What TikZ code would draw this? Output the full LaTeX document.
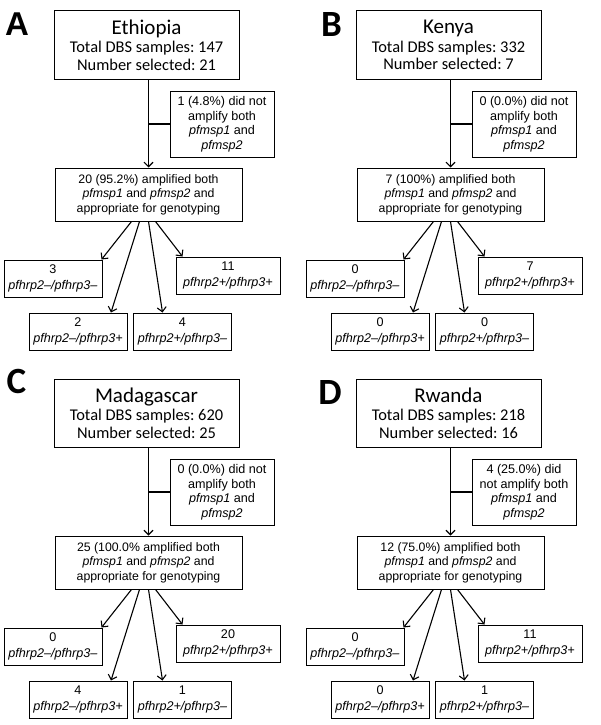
\documentclass[tikz,border=0pt]{standalone}
\usepackage{fontspec}
\setmainfont{Liberation Sans}
\newfontfamily\calibri{Carlito}
\usetikzlibrary{arrows.meta,positioning}
\frenchspacing
\newcommand{\hrpmm}{\textit{pfhrp2–/pfhrp3–}}
\newcommand{\hrppp}{\textit{pfhrp2+/pfhrp3+}}
\newcommand{\hrpmp}{\textit{pfhrp2–/pfhrp3+}}
\newcommand{\hrppm}{\textit{pfhrp2+/pfhrp3–}}
\tikzset{%
    panel/.style={%
        inner sep=0pt, font=\calibri\bfseries\fontsize{37}{37}\selectfont
    },
    country/.style={%
        draw, line width=1pt, minimum width=185, minimum height=68, inner sep=0pt, align=center,
        font=\calibri\fontsize{16.4}{17.5}\selectfont
    },
    failed/.style={%
        draw, line width=1pt, minimum width=104, minimum height=66, inner sep=0pt, align=center,
        font=\fontsize{12.6}{14.5}\selectfont
    },
    passed/.style={%
        draw, line width=1pt, minimum width=187, minimum height=53, inner sep=0pt, align=center,
        font=\fontsize{12.3}{14.5}\selectfont
    },
    result/.style={%
        draw, line width=1pt, minimum width=98, minimum height=37, inner sep=0pt, align=center,
        font=\fontsize{12.6}{15.5}\selectfont
    },
    flow/.style={%
        ->, line width=1.1pt
    },
}
\begin{document}
\begin{tikzpicture}[x=1pt, y=-1pt, >={Straight Barb[length=4.5pt,width=9pt]}]
  \useasboundingbox (0,0) rectangle (600,725);
  % A: Ethiopia
  \begin{scope}[name prefix=a-]
    \node[panel, font=\bfseries\fontsize{33}{33}\selectfont] (letter) at (17,24) {A};
    \node[country] (top) at (146.5,45) {{\fontsize{21}{24}\selectfont Ethiopia}\\[1pt]Total DBS samples: 147\\Number selected: 21};
    \node[failed] (side) at (222,124) {1 (4.8\%) did not\\amplify both\\\textit{pfmsp1} and\\\textit{pfmsp2}};
    \node[passed] (mid) at (148.5,194.5) {20 (95.2\%) amplified both\\\textit{pfmsp1} and \textit{pfmsp2} and\\appropriate for genotyping};
    \node[result] (mm) at (53,278.5) {3\\\hrpmm};
    \node[result, minimum width=104] (pp) at (228,275.5) {11\\\hrppp};
    \node[result] (mp) at (78,331.5) {2\\\hrpmp};
    \node[result] (pm) at (182.5,331.5) {4\\\hrppm};
    \draw[flow] (top.south -| mid.north) -- (mid.north);
    \draw[line width=1.1pt] (side.west) -- (side.west -| mid.north);
    \draw[flow] ([xshift=-17]mid.south) -- ([xshift=-1]mm.north east);
    \draw[flow] ([xshift=-9]mid.south) -- ([xshift=33]mp.north);
    \draw[flow] (mid.south) -- ([xshift=-20]pm.north);
    \draw[flow] ([xshift=7]mid.south) -- ([xshift=7]pp.north west);
  \end{scope}
  % B: Kenya
  \begin{scope}[shift={(302,0)}, name prefix=b-]
    \node[panel] (letter) at (29.5,25) {B};
    \node[country] (top) at (146.5,45) {{\fontsize{21}{24}\selectfont Kenya}\\[1pt]Total DBS samples: 332\\Number selected: 7};
    \node[failed] (side) at (222,124) {0 (0.0\%) did not\\amplify both\\\textit{pfmsp1} and\\\textit{pfmsp2}};
    \node[passed] (mid) at (148.5,194.5) {7 (100\%) amplified both\\\textit{pfmsp1} and \textit{pfmsp2} and\\appropriate for genotyping};
    \node[result] (mm) at (53,278.5) {0\\\hrpmm};
    \node[result, minimum width=104] (pp) at (228,275.5) {7\\\hrppp};
    \node[result] (mp) at (78,331.5) {0\\\hrpmp};
    \node[result] (pm) at (182.5,331.5) {0\\\hrppm};
    \draw[flow] (top.south -| mid.north) -- (mid.north);
    \draw[line width=1.1pt] (side.west) -- (side.west -| mid.north);
    \draw[flow] ([xshift=-17]mid.south) -- ([xshift=-1]mm.north east);
    \draw[flow] ([xshift=-9]mid.south) -- ([xshift=33]mp.north);
    \draw[flow] (mid.south) -- ([xshift=-20]pm.north);
    \draw[flow] ([xshift=7]mid.south) -- ([xshift=7]pp.north west);
  \end{scope}
  % C: Madagascar
  \begin{scope}[shift={(0,368)}, name prefix=c-]
    \node[panel] (letter) at (16.5,13) {C};
    \node[country] (top) at (146.5,45) {{\fontsize{21}{24}\selectfont Madagascar}\\[1pt]Total DBS samples: 620\\Number selected: 25};
    \node[failed] (side) at (222,124) {0 (0.0\%) did not\\amplify both\\\textit{pfmsp1} and\\\textit{pfmsp2}};
    \node[passed] (mid) at (148.5,194.5) {25 (100.0\% amplified both\\\textit{pfmsp1} and \textit{pfmsp2} and\\appropriate for genotyping};
    \node[result] (mm) at (53,278.5) {0\\\hrpmm};
    \node[result, minimum width=104] (pp) at (228,275.5) {20\\\hrppp};
    \node[result] (mp) at (78,331.5) {4\\\hrpmp};
    \node[result] (pm) at (182.5,331.5) {1\\\hrppm};
    \draw[flow] (top.south -| mid.north) -- (mid.north);
    \draw[line width=1.1pt] (side.west) -- (side.west -| mid.north);
    \draw[flow] ([xshift=-17]mid.south) -- ([xshift=-1]mm.north east);
    \draw[flow] ([xshift=-9]mid.south) -- ([xshift=33]mp.north);
    \draw[flow] (mid.south) -- ([xshift=-20]pm.north);
    \draw[flow] ([xshift=7]mid.south) -- ([xshift=7]pp.north west);
  \end{scope}
  % D: Rwanda
  \begin{scope}[shift={(302,368)}, name prefix=d-]
    \node[panel] (letter) at (28,24) {D};
    \node[country] (top) at (146.5,45) {{\fontsize{21}{24}\selectfont Rwanda}\\[1pt]Total DBS samples: 218\\Number selected: 16};
    \node[failed] (side) at (222,124) {4 (25.0\%) did\\not amplify both\\\textit{pfmsp1} and\\\textit{pfmsp2}};
    \node[passed] (mid) at (148.5,194.5) {12 (75.0\%) amplified both\\\textit{pfmsp1} and \textit{pfmsp2} and\\appropriate for genotyping};
    \node[result] (mm) at (53,278.5) {0\\\hrpmm};
    \node[result, minimum width=104] (pp) at (228,275.5) {11\\\hrppp};
    \node[result] (mp) at (78,331.5) {0\\\hrpmp};
    \node[result] (pm) at (182.5,331.5) {1\\\hrppm};
    \draw[flow] (top.south -| mid.north) -- (mid.north);
    \draw[line width=1.1pt] (side.west) -- (side.west -| mid.north);
    \draw[flow] ([xshift=-17]mid.south) -- ([xshift=-1]mm.north east);
    \draw[flow] ([xshift=-9]mid.south) -- ([xshift=33]mp.north);
    \draw[flow] (mid.south) -- ([xshift=-20]pm.north);
    \draw[flow] ([xshift=7]mid.south) -- ([xshift=7]pp.north west);
  \end{scope}
\end{tikzpicture}
\end{document}
